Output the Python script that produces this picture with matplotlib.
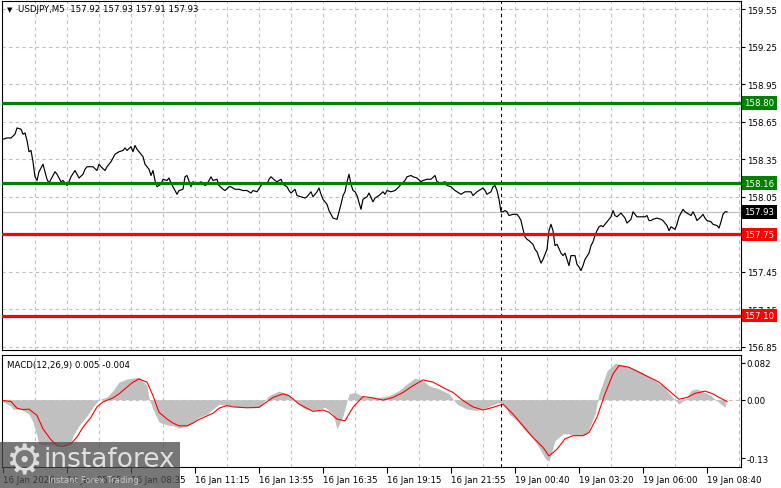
import numpy as np
import matplotlib
matplotlib.use("Agg")
import matplotlib.pyplot as plt
from matplotlib.patches import Rectangle

plt.rcParams['font.family'] = ['DejaVu Sans']

# USDJPY M5 closes (bar index, price)
bars = [0, 2, 4, 6, 7, 9, 10, 11, 12, 13, 14, 15, 16, 17, 18, 20, 21, 22, 23, 25,
        26, 27, 29, 30, 32, 33, 34, 36, 37, 38, 40, 41, 42, 45, 47, 48, 49, 51, 52, 54,
        56, 58, 60, 61, 62, 64, 65, 66, 67, 68, 70, 71, 73, 74, 75, 76, 77, 79, 80, 82,
        83, 84, 85, 87, 88, 90, 91, 92, 94, 95, 97, 99, 101, 102, 104, 105, 107, 108, 110, 111,
        113, 114, 116, 118, 120, 122, 124, 125, 127, 129, 130, 132, 133, 134, 136, 137, 139, 140, 142, 143,
        144, 146, 147, 149, 151, 152, 154, 155, 157, 158, 159, 160, 162, 163, 165, 167, 168, 169, 170, 171,
        172, 173, 174, 175, 176, 177, 179, 180, 182, 183, 185, 186, 188, 190, 191, 192, 194, 196, 198, 199,
        201, 202, 204, 205, 207, 209, 210, 212, 214, 216, 217, 219, 221, 222, 224, 226, 227, 229, 231, 232,
        234, 235, 237, 238, 240, 241, 242, 244, 245, 246, 247, 248, 249, 250, 251, 252, 253, 255, 257, 258,
        259, 260, 261, 262, 263, 265, 266, 267, 269, 270, 271, 272, 273, 274, 275, 276, 277, 279, 280, 281,
        282, 283, 284, 286, 287, 288, 289, 290, 291, 293, 294, 295, 296, 297, 298, 299, 300, 302, 303, 304,
        305, 306, 307, 309, 311, 312, 314, 315, 317, 319, 321, 322, 323, 324, 325, 327, 329, 330, 332, 333,
        334, 336, 337, 338, 340, 341, 342, 344, 345, 346, 347, 349, 350, 351, 352, 354, 355, 357, 358, 359,
        360, 361, 362]
close = [158.51, 158.52, 158.52, 158.55, 158.60, 158.59, 158.55, 158.56, 158.50, 158.41,
         158.42, 158.33, 158.21, 158.18, 158.25, 158.31, 158.25, 158.19, 158.16, 158.22,
         158.25, 158.23, 158.17, 158.18, 158.14, 158.17, 158.21, 158.26, 158.23, 158.20,
         158.23, 158.27, 158.29, 158.29, 158.26, 158.31, 158.29, 158.26, 158.29, 158.33,
         158.39, 158.41, 158.42, 158.44, 158.42, 158.45, 158.41, 158.46, 158.43, 158.41,
         158.37, 158.31, 158.27, 158.22, 158.26, 158.18, 158.13, 158.15, 158.19, 158.18,
         158.20, 158.16, 158.13, 158.07, 158.10, 158.11, 158.21, 158.22, 158.13, 158.17,
         158.15, 158.17, 158.14, 158.15, 158.21, 158.18, 158.19, 158.14, 158.11, 158.10,
         158.13, 158.13, 158.11, 158.11, 158.10, 158.10, 158.08, 158.10, 158.09, 158.14,
         158.16, 158.15, 158.19, 158.21, 158.18, 158.17, 158.19, 158.15, 158.13, 158.10,
         158.08, 158.11, 158.06, 158.05, 158.04, 158.05, 158.09, 158.05, 158.09, 158.12,
         158.07, 158.03, 157.99, 157.94, 157.88, 157.87, 157.93, 157.99, 158.06, 158.09,
         158.17, 158.23, 158.15, 158.10, 158.09, 158.06, 157.95, 158.03, 158.05, 158.08,
         158.01, 158.04, 158.06, 158.09, 158.07, 158.10, 158.09, 158.10, 158.13, 158.15,
         158.18, 158.21, 158.22, 158.21, 158.20, 158.17, 158.18, 158.19, 158.19, 158.22,
         158.17, 158.16, 158.17, 158.14, 158.13, 158.10, 158.09, 158.07, 158.09, 158.09,
         158.09, 158.06, 158.09, 158.10, 158.12, 158.10, 158.07, 158.09, 158.13, 158.14,
         158.10, 158.03, 157.93, 157.93, 157.94, 157.93, 157.90, 157.91, 157.91, 157.89,
         157.86, 157.79, 157.73, 157.71, 157.70, 157.67, 157.63, 157.61, 157.52, 157.55,
         157.59, 157.63, 157.78, 157.83, 157.78, 157.66, 157.67, 157.60, 157.58, 157.60,
         157.55, 157.50, 157.58, 157.58, 157.51, 157.49, 157.46, 157.50, 157.55, 157.60,
         157.66, 157.69, 157.74, 157.78, 157.81, 157.82, 157.81, 157.85, 157.87, 157.89,
         157.94, 157.90, 157.89, 157.92, 157.88, 157.84, 157.87, 157.93, 157.89, 157.89,
         157.89, 157.90, 157.86, 157.86, 157.87, 157.88, 157.87, 157.86, 157.82, 157.78,
         157.81, 157.79, 157.83, 157.89, 157.95, 157.93, 157.92, 157.90, 157.93, 157.90,
         157.86, 157.89, 157.91, 157.88, 157.86, 157.85, 157.83, 157.82, 157.80, 157.85,
         157.91, 157.93, 157.93]

# MACD main (histogram) and signal
hist_bars = [0, 4, 5, 9, 13, 15, 17, 18, 25, 32, 34, 35, 38, 42, 45, 48, 52, 55, 58, 62,
             65, 68, 72, 73, 75, 78, 82, 85, 88, 92, 95, 98, 102, 105, 108, 112, 118, 125, 128, 133,
             138, 142, 146, 151, 156, 161, 165, 167, 170, 173, 176, 181, 188, 193, 198, 202, 206, 210, 213, 218,
             223, 227, 232, 237, 242, 246, 248, 251, 253, 257, 261, 265, 268, 271, 273, 276, 280, 283, 288, 292,
             296, 298, 302, 306, 311, 316, 321, 326, 331, 334, 338, 342, 344, 347, 351, 354, 358, 361, 362]
hist = [-0.005, -0.014, -0.021, -0.021, -0.032, -0.05, -0.08, -0.10, -0.10, -0.10,
        -0.095, -0.08, -0.058, -0.036, -0.016, 0.0, 0.006, 0.02, 0.039, 0.046,
        0.048, 0.05, 0.031, 0.003, -0.021, -0.05, -0.056, -0.058, -0.063, -0.059,
        -0.05, -0.039, -0.032, -0.021, -0.01, -0.013, -0.016, -0.018, -0.017, 0.009,
        0.019, 0.013, -0.002, -0.021, -0.024, -0.017, -0.032, -0.065, -0.036, 0.013,
        0.016, 0.005, 0.005, 0.009, 0.02, 0.035, 0.048, 0.042, 0.031, 0.024,
        0.013, -0.01, -0.021, -0.024, -0.017, -0.01, -0.006, -0.013, -0.032, -0.047,
        -0.069, -0.087, -0.106, -0.13, -0.137, -0.091, -0.076, -0.076, -0.08, -0.076,
        -0.032, 0.013, 0.064, 0.081, 0.076, 0.068, 0.057, 0.042, 0.027, 0.009,
        -0.01, 0.005, 0.021, 0.024, 0.016, 0.009, -0.006, -0.017, 0.005]
sig_bars = [0, 4, 7, 10, 13, 17, 20, 24, 27, 30, 34, 37, 40, 44, 47, 50, 55, 58, 62, 65,
            68, 72, 75, 78, 82, 85, 88, 92, 95, 98, 102, 105, 108, 112, 115, 122, 128, 135, 140, 143,
            148, 155, 160, 163, 167, 171, 175, 180, 185, 190, 195, 200, 205, 210, 215, 220, 225, 230, 235, 240,
            245, 250, 255, 260, 265, 270, 273, 277, 281, 285, 290, 293, 297, 301, 305, 308, 313, 318, 323, 328,
            333, 338, 342, 346, 351, 355, 358, 362]
signal = [-0.002, -0.004, -0.019, -0.022, -0.021, -0.035, -0.065, -0.089, -0.102, -0.104,
          -0.098, -0.083, -0.061, -0.039, -0.016, -0.005, 0.004, 0.013, 0.028, 0.039,
          0.046, 0.039, 0.009, -0.028, -0.043, -0.052, -0.058, -0.058, -0.052, -0.044,
          -0.036, -0.03, -0.019, -0.013, -0.016, -0.018, -0.017, 0.005, 0.013, 0.009,
          -0.01, -0.026, -0.023, -0.028, -0.043, -0.047, -0.017, 0.007, 0.004, -0.001,
          0.005, 0.016, 0.031, 0.044, 0.039, 0.027, 0.016, -0.002, -0.016, -0.023,
          -0.017, -0.01, -0.032, -0.058, -0.084, -0.106, -0.125, -0.11, -0.087, -0.08,
          -0.08, -0.073, -0.039, 0.013, 0.057, 0.076, 0.072, 0.061, 0.05, 0.039,
          0.02, 0.001, 0.005, 0.014, 0.019, 0.013, 0.005, -0.004]

price_ticks = [159.55, 159.25, 158.95, 158.65, 158.35, 158.05, 157.75, 157.45, 157.15, 156.85]
green_levels = [158.80, 158.16]
red_levels = [157.75, 157.10]
last_price = 157.93
time_labels = ["16 Jan 2026", "16 Jan 05:55", "16 Jan 08:35", "16 Jan 11:15", "16 Jan 13:55",
               "16 Jan 16:35", "16 Jan 19:15", "16 Jan 21:55", "19 Jan 00:40", "19 Jan 03:20",
               "19 Jan 06:00", "19 Jan 08:40"]
label_bars = [0, 32, 64, 96, 128, 160, 192, 224, 256, 288, 320, 352]
week_break = 249

W, H = 781, 489
fig = plt.figure(figsize=(W / 100, H / 100), dpi=100)
ax = fig.add_axes([2 / W, (H - 351) / H, 739 / W, 349 / H])
ax2 = fig.add_axes([2 / W, (H - 468) / H, 739 / W, 112 / H])

grid_kw = dict(color="#c0c0c0", linestyle=(0, (3, 3)), linewidth=0.8)
xmin, xmax = -0.5, 369

# price panel
ax.plot(bars, close, color="black", linewidth=0.85, zorder=3)
ax.axhline(last_price, color="#c0c0c0", linewidth=0.9, zorder=2)
for lv in green_levels:
    ax.axhline(lv, color="#008000", linewidth=2.3, zorder=4)
for lv in red_levels:
    ax.axhline(lv, color="#ff0000", linewidth=2.3, zorder=4)
ax.set_xlim(xmin, xmax)
ax.set_ylim(156.826, 159.614)
ax.yaxis.tick_right()
ax.set_yticks(price_ticks)
# the 157.75 tick label sits fully under the red level box
ax.set_yticklabels(["" if t in red_levels else f"{t:.2f}" for t in price_ticks])
ax.set_xticks([])
ax.set_xticks(np.arange(16, xmax, 16), minor=True)
ax.tick_params(axis="x", which="both", length=0, labelbottom=False)
ax.tick_params(axis="y", direction="out", length=3, width=0.8, pad=1, labelsize=6.2)
ax.grid(True, axis="y", **grid_kw)
ax.grid(True, axis="x", which="minor", **grid_kw)
ax.axvline(week_break, color="black", linestyle=(0, (3, 3)), linewidth=0.8, zorder=2)

ytr = ax.get_yaxis_transform()
boxes = [(lv, "#008000") for lv in green_levels] + [(last_price, "black")] + \
        [(lv, "#ff0000") for lv in red_levels]
for lv, col in boxes:
    ax.text(1 + 3.5 / 739, lv, f"{lv:.2f}", transform=ytr, color="white", fontsize=6.2,
            va="center", ha="left", clip_on=False, zorder=6,
            bbox=dict(facecolor=col, edgecolor="none", pad=1.6))

# MACD panel
ax2.fill_between(hist_bars, hist, 0, color="#c0c0c0", linewidth=0, zorder=2)
ax2.plot(sig_bars, signal, color="red", linewidth=0.8, zorder=3)
ax2.axhline(0, **grid_kw, zorder=1)
ax2.set_xlim(xmin, xmax)
ax2.set_ylim(-0.1496, 0.0993)
ax2.yaxis.tick_right()
ax2.set_yticks([0.082, 0.0, -0.13])
ax2.set_yticklabels(["0.082", "0.00", "-0.13"])
ax2.tick_params(axis="y", direction="out", length=3, width=0.8, pad=1, labelsize=6.2)
ax2.set_xticks(label_bars)
ax2.set_xticklabels(time_labels, ha="left")
ax2.set_xticks(np.arange(16, xmax, 16), minor=True)
ax2.tick_params(axis="x", which="major", direction="out", length=4, width=0.8, pad=2, labelsize=6.2)
ax2.tick_params(axis="x", which="minor", length=0)
ax2.grid(True, axis="x", which="minor", **grid_kw)
ax2.axvline(week_break, color="black", linestyle=(0, (3, 3)), linewidth=0.8, zorder=4)

for a in (ax, ax2):
    for s in a.spines.values():
        s.set_color("black")
        s.set_linewidth(0.8)

fig.text(7 / W, 1 - 10 / H, "\u25bc", fontsize=5, va="center")
fig.text(18 / W, 1 - 10 / H, "USDJPY,M5  157.92 157.93 157.91 157.93", fontsize=6.2, va="center")
fig.text(7 / W, 1 - 366 / H, "MACD(12,26,9) 0.005 -0.004", fontsize=6.2, va="center")

# watermark
fig.patches.append(Rectangle((0, 0), 180 / W, 46 / H, transform=fig.transFigure,
                             facecolor="#4a4a4a", alpha=0.75, edgecolor="none", zorder=10))
fig.text(24 / W, 1 - 462 / H, "\u2699", fontsize=30, color="#dcdcdc", ha="center", va="center", zorder=11)
fig.text(44 / W, 1 - 460 / H, "instaforex", fontsize=19, color="#e0e0e0", va="center", zorder=11)
fig.text(48 / W, 1 - 481 / H, "Instant Forex Trading", fontsize=6.2, color="#c8c8c8", va="center", zorder=11)

fig.savefig("out.png", dpi=100)
